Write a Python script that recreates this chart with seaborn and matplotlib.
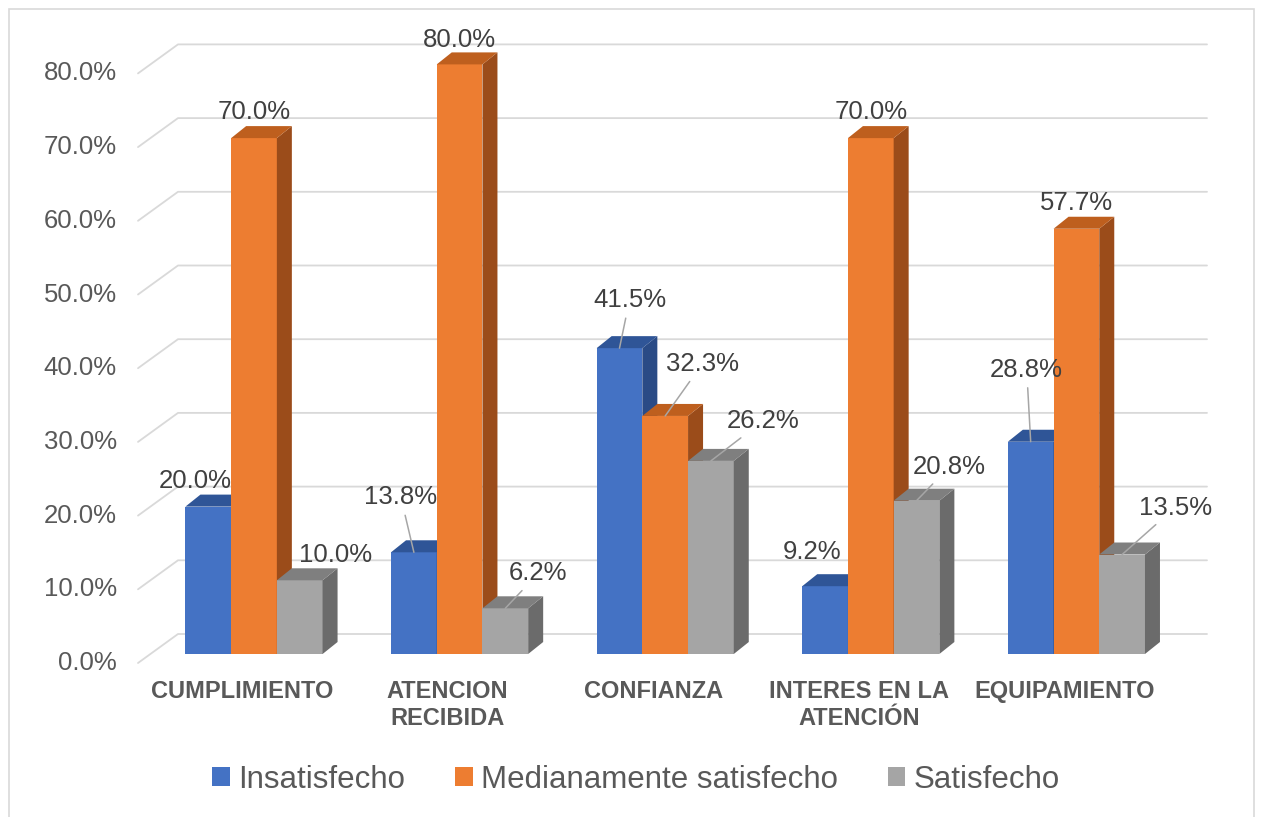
import matplotlib
matplotlib.use("Agg")
import matplotlib.pyplot as plt
from matplotlib.patches import Polygon, Patch, Rectangle
from matplotlib.lines import Line2D
import seaborn as sns
import pandas as pd

# ---------------- data ----------------
categories = ["CUMPLIMIENTO", "ATENCION\nRECIBIDA", "CONFIANZA",
              "INTERES EN LA\nATENCIÓN", "EQUIPAMIENTO"]
series = ["Insatisfecho", "Medianamente satisfecho", "Satisfecho"]
insatisfecho = [20.0, 13.8, 41.5, 9.2, 28.8]
medianamente = [70.0, 80.0, 32.3, 70.0, 57.7]
satisfecho = [10.0, 6.2, 26.2, 20.8, 13.5]
y_ticks = [0, 10, 20, 30, 40, 50, 60, 70, 80]

# ---------------- style ----------------
front_cols = ["#4472C4", "#ED7D31", "#A5A5A5"]
top_cols = ["#2F5597", "#BE5F1E", "#7F7F7F"]
side_cols = ["#2A4B86", "#9B4C1A", "#6B6B6B"]
# label offsets (pixels) from bar front-top centre, per series per category
label_off = [
    [(-13, 26), (-13, 55), (10, 48), (-13, 34), (-4, 72)],
    [(0, 26), (0, 24), (37, 52), (0, 26), (0, 26)],
    [(36, 25), (33, 35), (52, 40), (33, 34), (53, 47)],
]
leader = [
    [False, True, True, False, True],
    [False, False, True, False, False],
    [False, True, True, True, True],
]

W, H = 1262, 817
PX_X = 205.6          # pixels per category unit
PX_Y = 7.37           # pixels per percent
X0, Y0 = 254, 654     # pixel of (first category, 0%)

sns.set_theme(style="white")
plt.rcParams["font.family"] = ["Liberation Sans", "DejaVu Sans"]

fig = plt.figure(figsize=(W / 100, H / 100), dpi=100)
ax = fig.add_axes([0, 0, 1, 1])

df = pd.DataFrame({
    "cat": categories * 3,
    "serie": [s for s in series for _ in categories],
    "val": insatisfecho + medianamente + satisfecho,
})
sns.barplot(data=df, x="cat", y="val", hue="serie", order=categories,
            hue_order=series, palette=front_cols, width=0.667, gap=0,
            saturation=1, linewidth=0, legend=False, ax=ax)

ax.set_xlim(-X0 / PX_X, (W - X0) / PX_X)
ax.set_ylim((Y0 - H) / PX_Y, Y0 / PX_Y)
ax.set_axis_off()

dx = 15 / PX_X
dy = 12 / PX_Y
back = 20 / PX_Y
left_drop = 9 / PX_Y
x_wall = (178 - X0) / PX_X
x_left = (138 - X0) / PX_X
x_right = (1207 - X0) / PX_X

# gridlines on back wall with perspective diagonal
for v in y_ticks:
    ax.add_line(Line2D([x_left, x_wall, x_right],
                       [v - left_drop, v + back, v + back],
                       color="#D9D9D9", lw=1.3, zorder=1))
    ax.text((117 - X0) / PX_X, v - left_drop, f"{v:.1f}%", ha="right",
            va="center", fontsize=18.5, color="#595959")

# 3D faces
for k, cont in enumerate(ax.containers):
    for j, bar in enumerate(cont.patches):
        bar.set_zorder(3 + 2 * k)
        x0 = bar.get_x()
        x1 = x0 + bar.get_width()
        v = bar.get_height()
        top = Polygon([(x0, v), (x1, v), (x1 + dx, v + dy), (x0 + dx, v + dy)],
                      closed=True, facecolor=top_cols[k], edgecolor="none",
                      zorder=3.5 + 2 * k)
        side = Polygon([(x1, 0), (x1, v), (x1 + dx, v + dy), (x1 + dx, dy)],
                       closed=True, facecolor=side_cols[k], edgecolor="none",
                       zorder=3.5 + 2 * k)
        ax.add_patch(side)
        ax.add_patch(top)
        xc = x0 + bar.get_width() / 2
        kw = {}
        if leader[k][j]:
            kw["arrowprops"] = dict(arrowstyle="-", color="#A6A6A6", lw=1.1,
                                    shrinkA=2, shrinkB=0)
        ax.annotate(f"{v:.1f}%", xy=(xc, v), xytext=label_off[k][j],
                    textcoords="offset pixels", ha="center", va="center",
                    fontsize=18.5, color="#404040", zorder=20, **kw)

# category labels
for i, c in enumerate(categories):
    ax.text(i - 12 / PX_X, (Y0 - 680) / PX_Y, c, ha="center", va="top",
            fontsize=17, fontweight="bold", color="#595959",
            linespacing=1.2, multialignment="center")

# legend
handles = [Patch(facecolor=front_cols[k], edgecolor="none", label=series[k])
           for k in range(3)]
leg = fig.legend(handles=handles, loc="center", ncol=3,
                 bbox_to_anchor=(636 / W, 1 - 780 / H), frameon=False,
                 fontsize=22.5, handlelength=0.56, handleheight=0.56,
                 handletextpad=0.26, columnspacing=1.6, borderpad=0)
for t in leg.get_texts():
    t.set_color("#595959")

# chart border (bottom edge lies below the visible area)
fig.patches.append(Rectangle((8.5 / W, -10 / H), (1254 - 8.5) / W,
                             (827 - 8.5) / H, transform=fig.transFigure,
                             fill=False, edgecolor="#D9D9D9", lw=1.2))

fig.savefig("out.png", dpi=100)
